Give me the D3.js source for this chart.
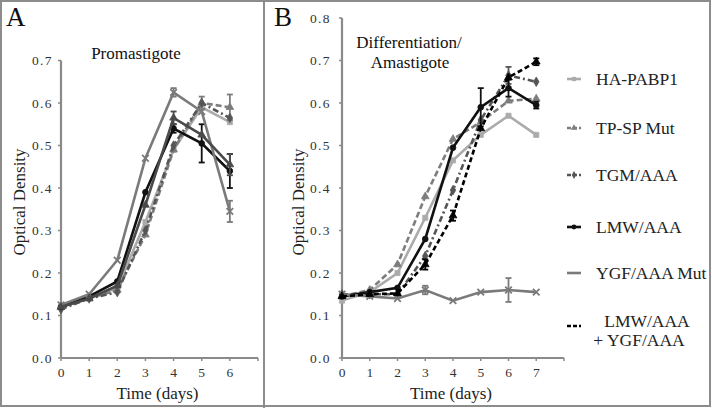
<!DOCTYPE html>
<html><head><meta charset="utf-8">
<script src="https://cdn.jsdelivr.net/npm/d3@7"></script>
<style>body{margin:0;background:#fff}</style>
</head><body>
<svg id="c" width="712" height="408" font-family="Liberation Serif, Times New Roman, Times, serif"></svg>
<script>
const seriesNames = ["HA-PABP1","TP-SP Mut","TGM/AAA","LMW/AAA","YGF/AAA Mut","LMW/AAA + YGF/AAA"];
const daysA = [0,1,2,3,4,5,6];
const daysB = [0,1,2,3,4,5,6,7];
const yTicksA = [0,0.1,0.2,0.3,0.4,0.5,0.6,0.7];
const yTicksB = [0,0.1,0.2,0.3,0.4,0.5,0.6,0.7,0.8];
// Panel A (Promastigote)
const haA   = [0.120,0.140,0.165,0.320,0.490,0.590,0.555];
const tpA   = [0.120,0.140,0.160,0.290,0.490,0.600,0.590];
const tgmA  = [0.115,0.140,0.155,0.300,0.500,0.600,0.565];
const lmwA  = [0.120,0.145,0.180,0.390,0.540,0.505,0.440];
const ygfA  = [0.125,0.150,0.230,0.470,0.625,0.580,0.345];
const combA = [0.120,0.140,0.170,0.360,0.565,0.525,0.455];
const errA = {
  tp:   [0,0,0,0,0,0.015,0.030],
  lmw:  [0,0,0,0,0.010,0.045,0.040],
  ygf:  [0,0,0,0,0.010,0,0.025],
  comb: [0,0,0,0,0.015,0,0.025]
};
// Panel B (Differentiation/Amastigote)
const haB   = [0.135,0.155,0.200,0.330,0.465,0.525,0.570,0.525];
const tpB   = [0.145,0.160,0.220,0.380,0.515,0.555,0.605,0.610];
const tgmB  = [0.150,0.150,0.150,0.240,0.395,0.560,0.665,0.650];
const lmwB  = [0.145,0.155,0.165,0.280,0.495,0.590,0.635,0.595];
const ygfB  = [0.150,0.145,0.140,0.160,0.135,0.155,0.160,0.155];
const combB = [0.145,0.150,0.152,0.220,0.335,0.540,0.660,0.697];
const errB = {
  lmw:  [0,0,0,0,0,0.045,0.020,0.008],
  ygf:  [0,0,0,0.010,0,0,0.028,0],
  tgm:  [0,0,0,0,0,0,0.020,0],
  comb: [0,0,0,0.012,0.012,0,0,0.008]
};

const styles = [
  {color:"#ababab", dash:null,      marker:"square"},
  {color:"#7d7d7d", dash:"6,3",     marker:"triangle"},
  {color:"#555555", dash:"6,3,2,3", marker:"diamond"},
  {color:"#111111", dash:null,      marker:"circle"},
  {color:"#7a7a7a", dash:null,      marker:"cross"},
  {color:"#000000", dash:"5,3",     marker:"triangle"}
];
const stylesA = styles.map((s,i)=> i===5 ? {color:"#4a4a4a", dash:null, marker:"triangle"} : s);
const symMap = {square:d3.symbolSquare, triangle:d3.symbolTriangle, diamond:d3.symbolDiamond, circle:d3.symbolCircle, cross:d3.symbolX};

const svg = d3.select("#c");
svg.append("rect").attr("x",1).attr("y",1).attr("width",709).attr("height",405)
  .attr("fill","none").attr("stroke","#8c8c8c").attr("stroke-width",2);
svg.append("line").attr("x1",264).attr("x2",264).attr("y1",0).attr("y2",408)
  .attr("stroke","#8c8c8c").attr("stroke-width",2);

const y = d3.scaleLinear().domain([0,0.8]).range([358,18]);

function panel(cfg){
  const x = d3.scaleLinear().domain([0,cfg.xmax]).range([cfg.x0,cfg.x1]);
  const g = svg.append("g");
  const top = cfg.yTicks[cfg.yTicks.length-1];
  g.append("line").attr("x1",cfg.x0).attr("x2",cfg.x0).attr("y1",y(0)).attr("y2",y(top))
    .attr("stroke","#8a8a8a").attr("stroke-width",2.2);
  g.append("line").attr("x1",cfg.x0).attr("x2",cfg.x1).attr("y1",y(0)).attr("y2",y(0))
    .attr("stroke","#8a8a8a").attr("stroke-width",2.2);
  cfg.yTicks.forEach(t=>{
    g.append("line").attr("x1",cfg.x0-3).attr("x2",cfg.x0).attr("y1",y(t)).attr("y2",y(t))
      .attr("stroke","#8a8a8a").attr("stroke-width",1.5);
    g.append("text").attr("x",cfg.labX).attr("y",y(t)+4.5).attr("text-anchor","end")
      .attr("font-size",13.5).attr("letter-spacing",1.4).attr("fill","#333").text(t.toFixed(1));
  });
  d3.range(0,cfg.xmax+1).forEach(t=>{
    g.append("line").attr("x1",x(t)).attr("x2",x(t)).attr("y1",y(0)).attr("y2",y(0)+3)
      .attr("stroke","#8a8a8a").attr("stroke-width",1.5);
  });
  cfg.days.forEach(t=>{
    g.append("text").attr("x",x(t)).attr("y",377).attr("text-anchor","middle")
      .attr("font-size",13.5).attr("fill","#333").text(t);
  });
  g.append("text").attr("x",(cfg.x0+cfg.x1)/2 - 2).attr("y",399).attr("text-anchor","middle")
    .attr("font-size",17).attr("fill","#222").text("Time (days)");
  g.append("text").attr("transform",`translate(${cfg.ylabX},202) rotate(-90)`).attr("text-anchor","middle")
    .attr("font-size",17).attr("fill","#222").text("Optical Density");
  cfg.data.forEach((vals,i)=>{
    const st = cfg.styles[i];
    const pts = vals.map((v,j)=>[x(cfg.days[j]),y(v)]);
    const err = cfg.err[i];
    if(err){
      err.forEach((e,j)=>{ if(e>0){
        const cx=x(cfg.days[j]);
        g.append("line").attr("x1",cx).attr("x2",cx).attr("y1",y(vals[j]-e)).attr("y2",y(vals[j]+e))
          .attr("stroke",st.color).attr("stroke-width",1.8);
        [vals[j]-e,vals[j]+e].forEach(v=>g.append("line").attr("x1",cx-3).attr("x2",cx+3)
          .attr("y1",y(v)).attr("y2",y(v)).attr("stroke",st.color).attr("stroke-width",1.8));
      }});
    }
    g.append("path").attr("d",d3.line()(pts)).attr("fill","none").attr("stroke",st.color)
      .attr("stroke-width",2.6).attr("stroke-dasharray",st.dash);
    pts.forEach(p=>{
      g.append("path").attr("transform",`translate(${p[0]},${p[1]})`)
        .attr("d",d3.symbol().type(symMap[st.marker]).size(st.marker==="cross"?30:26)())
        .attr("fill",st.color).attr("stroke",st.color).attr("stroke-width",st.marker==="cross"?1.8:0.8);
    });
  });
}

panel({x0:61,x1:258,xmax:7,days:daysA,yTicks:yTicksA,labX:53,ylabX:25,styles:stylesA,
  data:[haA,tpA,tgmA,lmwA,ygfA,combA], err:[null,errA.tp,null,errA.lmw,errA.ygf,errA.comb]});
panel({x0:342,x1:564,xmax:8,days:daysB,yTicks:yTicksB,labX:331,ylabX:304,styles:styles,
  data:[haB,tpB,tgmB,lmwB,ygfB,combB], err:[null,null,errB.tgm,errB.lmw,errB.ygf,errB.comb]});

svg.append("text").attr("x",6).attr("y",26).attr("font-size",27).attr("fill","#111").text("A");
svg.append("text").attr("x",274).attr("y",26).attr("font-size",27).attr("fill","#111").text("B");
svg.append("text").attr("x",136).attr("y",59).attr("text-anchor","middle").attr("font-size",17).attr("fill","#111").text("Promastigote");
svg.append("text").attr("x",409).attr("y",48).attr("text-anchor","middle").attr("font-size",17).attr("fill","#111").text("Differentiation/");
svg.append("text").attr("x",410).attr("y",68).attr("text-anchor","middle").attr("font-size",17).attr("fill","#111").text("Amastigote");

const legY = [79,128,175,227,273,326];
seriesNames.forEach((name,i)=>{
  const st = styles[i];
  const ly = legY[i];
  svg.append("line").attr("x1",567).attr("x2",581).attr("y1",ly).attr("y2",ly)
    .attr("stroke",st.color).attr("stroke-width",2.6).attr("stroke-dasharray",st.dash?"4,2":null);
  if(i<5) svg.append("path").attr("transform",`translate(574,${ly})`)
    .attr("d",d3.symbol().type(symMap[st.marker]).size(18)()).attr("fill",st.color);
  if(i<5){
    svg.append("text").attr("x",596).attr("y",ly+6).attr("font-size",17.5).attr("fill","#222").text(name);
  } else {
    svg.append("text").attr("x",647).attr("y",ly+1).attr("text-anchor","middle").attr("font-size",17.5).attr("fill","#222").text("LMW/AAA");
    svg.append("text").attr("x",639).attr("y",ly+20).attr("text-anchor","middle").attr("font-size",17.5).attr("fill","#222").text("+ YGF/AAA");
  }
});
</script>
</body></html>
